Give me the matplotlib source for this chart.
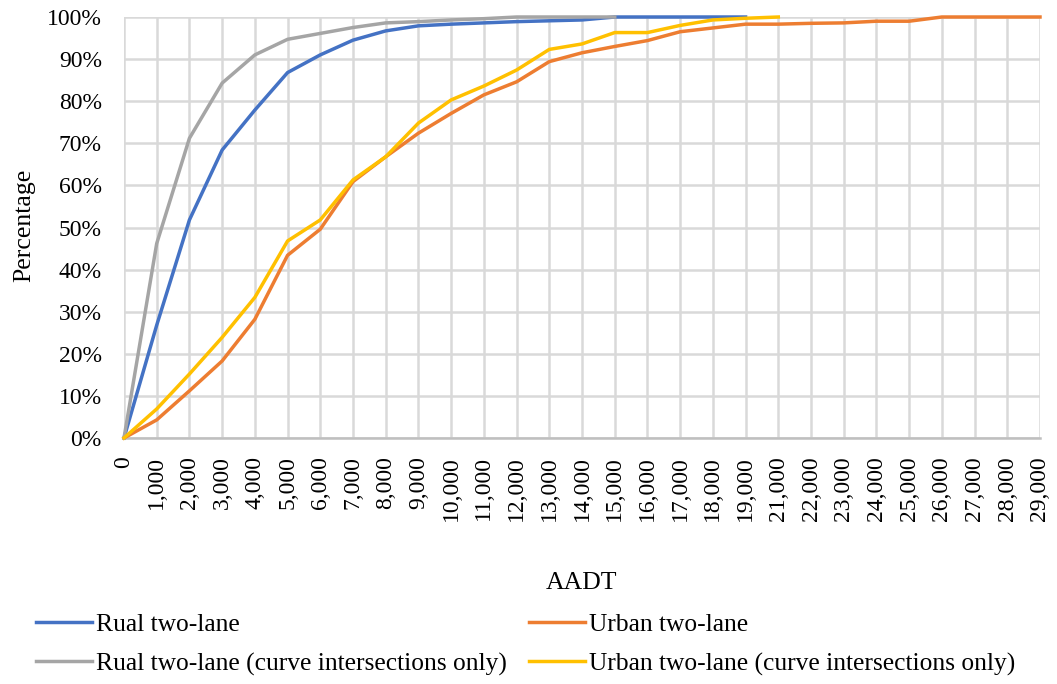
import numpy as np
import matplotlib
matplotlib.use("Agg")
import matplotlib.pyplot as plt

# categorie AADT (20,000 manca nel grafico originale)
aadt = ['0', '1,000', '2,000', '3,000', '4,000', '5,000', '6,000', '7,000', '8,000', '9,000',
        '10,000', '11,000', '12,000', '13,000', '14,000', '15,000', '16,000', '17,000', '18,000',
        '19,000', '21,000', '22,000', '23,000', '24,000', '25,000', '26,000', '27,000', '28,000',
        '29,000']

nan = np.nan
rual = [0, 26.8, 51.8, 68.4, 77.9, 86.8, 91.0, 94.5, 96.7, 97.9, 98.3, 98.6, 98.9, 99.1, 99.3,
        100, 100, 100, 100, 100, nan, nan, nan, nan, nan, nan, nan, nan, nan]
urban = [0, 4.3, 11.2, 18.3, 28.2, 43.4, 49.6, 60.9, 66.8, 72.4, 77.1, 81.5, 84.6, 89.4, 91.5,
         93.0, 94.4, 96.5, 97.4, 98.3, 98.3, 98.5, 98.6, 99.0, 99.0, 100, 100, 100, 100]
rual_curve = [0, 46.2, 71.2, 84.3, 91.0, 94.7, 96.1, 97.5, 98.6, 98.9, 99.3, 99.6, 100, 100, 100,
              100, nan, nan, nan, nan, nan, nan, nan, nan, nan, nan, nan, nan, nan]
urban_curve = [0, 6.9, 15.2, 23.9, 33.4, 46.8, 51.8, 61.3, 66.8, 74.8, 80.3, 83.6, 87.4, 92.3,
               93.6, 96.3, 96.3, 98.0, 99.3, 99.7, 100, nan, nan, nan, nan, nan, nan, nan, nan]

plt.rcParams['font.family'] = ['Liberation Serif', 'DejaVu Serif']
fs = 17

fig = plt.figure(figsize=(10.57, 6.84), dpi=100)
ax = fig.add_axes([124 / 1057, 1 - 438 / 684, 916 / 1057, 421 / 684])

x = np.arange(len(aadt))
lw = 2.5
l1, = ax.plot(x, rual, color='#4472C4', lw=lw, label='Rual two-lane', clip_on=False, zorder=3)
l2, = ax.plot(x, urban, color='#ED7D31', lw=lw, label='Urban two-lane', clip_on=False, zorder=3)
l3, = ax.plot(x, rual_curve, color='#A5A5A5', lw=lw,
              label='Rual two-lane (curve intersections only)', clip_on=False, zorder=3)
l4, = ax.plot(x, urban_curve, color='#FFC000', lw=lw,
              label='Urban two-lane (curve intersections only)', clip_on=False, zorder=3)

ax.set_xlim(0, len(aadt) - 1)
ax.set_ylim(0, 100)
ax.set_xticks(x)
ax.set_xticklabels(aadt, rotation=90, fontsize=fs)
ax.set_yticks(np.arange(0, 101, 10))
ax.set_yticklabels([f'{v}%' for v in range(0, 101, 10)], fontsize=fs)
ax.tick_params(axis='both', length=0)
ax.tick_params(axis='y', pad=16)
ax.tick_params(axis='x', pad=13)

ax.grid(True, color='#d9d9d9', lw=1.8)
ax.set_axisbelow(True)
for s in ['top', 'right', 'left']:
    ax.spines[s].set_visible(False)
ax.spines['bottom'].set_color('#bfbfbf')
ax.spines['bottom'].set_linewidth(1.8)

ax.set_xlabel('AADT', fontsize=fs + 1.5)
ax.xaxis.set_label_coords(0.5, -0.345)
ax.xaxis.label.set_va('center')
ax.set_ylabel('Percentage', fontsize=fs + 1.5)
ax.yaxis.set_label_coords(-0.109, 0.506)
ax.yaxis.label.set_va('center')

fig.legend(handles=[l1, l3, l2, l4], ncol=2, loc='upper left',
           bbox_to_anchor=(36 / 1057, 1 - 613 / 684), frameon=False, fontsize=18.4,
           handlelength=2.2, handletextpad=0.15, columnspacing=0.85, labelspacing=0.65,
           borderaxespad=0, borderpad=0)

fig.savefig('out.png', dpi=100)
